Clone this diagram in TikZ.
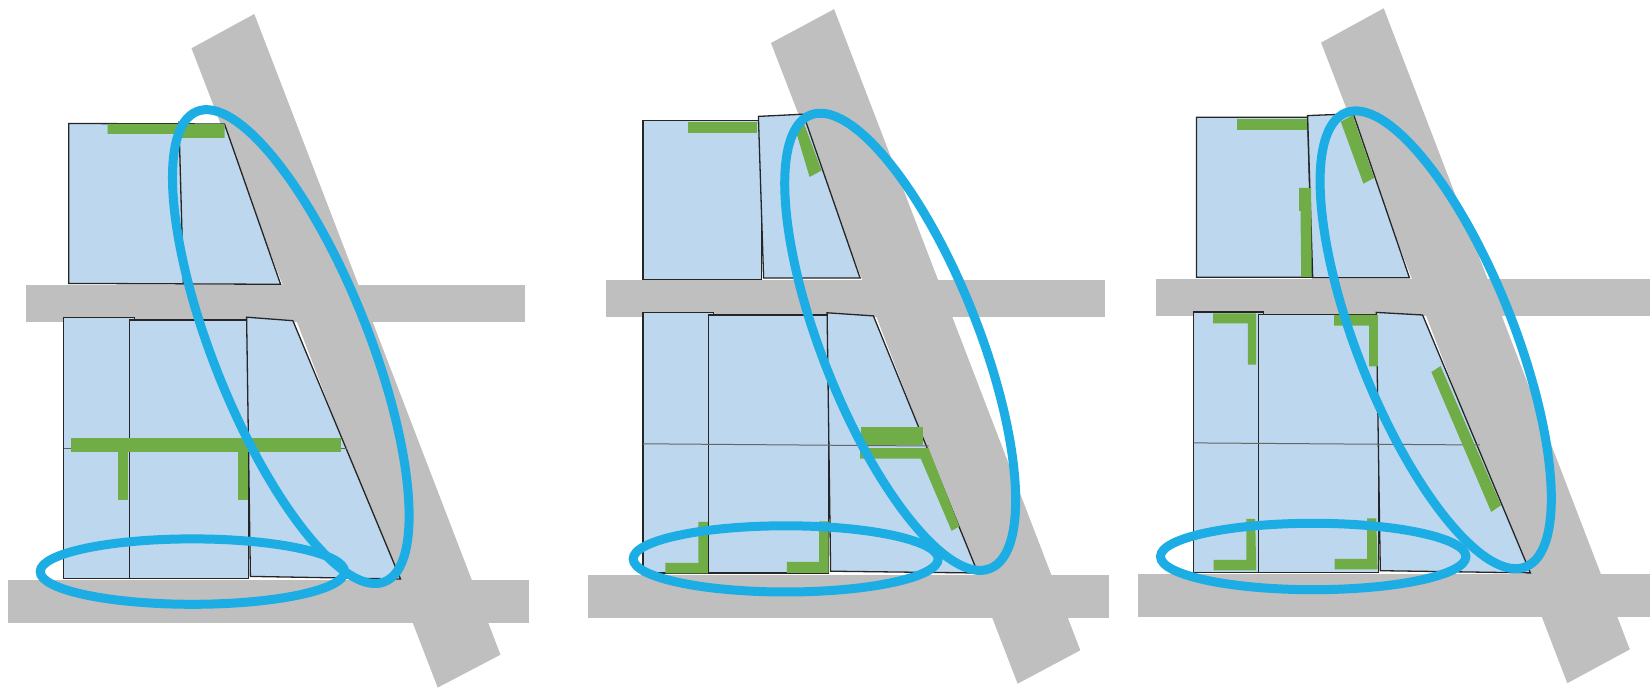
\documentclass[tikz,border=0pt]{standalone}
\usepackage{xcolor}
\usepackage{tikz}
\definecolor{roadgray}{HTML}{BFBFBF}
\definecolor{blockblue}{HTML}{BDD7EE}
\definecolor{wallgreen}{HTML}{70AD47}
\definecolor{ringblue}{HTML}{1CADE4}

\begin{document}
\begin{tikzpicture}[x=0.5pt, y=-0.5pt,
    road/.style={fill=roadgray},
    block/.style={draw=black!85, fill=blockblue, line width=0.65pt, line join=miter},
    grid/.style={draw=black!60, line width=0.5pt},
    wall/.style={fill=wallgreen},
    ring/.style={draw=ringblue, line width=4.5pt}]
  \useasboundingbox (0,0) rectangle (1650,689);

  \fill[road] (254.3,14) -- (191.5,48.3) -- (437.7,687.6) -- (500.5,654.7) -- cycle;
  \fill[road] (26.3,284.7) rectangle (525.4,321.6);
  \fill[road] (8,580) rectangle (529,622.6);

  \path[block] (68.7,123.5) -- (224.5,124) -- (280.6,284.3) -- (68.7,283.4) -- cycle;
  \draw[block] (178.9,121.3) -- (183.4,283.4);
  \path[block] (63.8,317.2) -- (134.7,317.2) -- (134.7,319.9) -- (129.4,319.9) -- (129.4,578.6) -- (63.8,578.6) -- cycle;
  \path[block] (129.4,319.9) rectangle (248.7,578.6);
  \path[block] (246.6,317.2) -- (292.9,320.7) -- (400.5,579) -- (250.4,576.4) -- cycle;
  \draw[grid] (63.8,448.6) -- (347,448.6);

  \fill[wall] (107.7,123.9) -- (224.5,123.9) -- (224.5,138) -- (175.4,138) -- (175.4,134) -- (107.7,134) -- cycle;
  \fill[wall] (70.9,438) rectangle (340.9,452.5);
  \fill[wall] (117.9,452) rectangle (128,499.6);
  \fill[wall] (237.5,452) rectangle (247.8,499.6);

  \draw[ring] (290.8,346.6) circle [x radius=253.2, y radius=77.6, rotate=-68.25];
  \draw[ring] (192.4,571.6) circle [x radius=152.2, y radius=32.7];

  \fill[road] (834.1,9.2) -- (771,43) -- (1017.6,683.7) -- (1080.3,650.3) -- cycle;
  \fill[road] (606.1,279.9) rectangle (1104.9,317.2);
  \fill[road] (587.5,575.1) rectangle (1108.8,618.2);

  \path[block] (643,120.4) rectangle (761.5,279.4);
  \path[block] (758.4,116.4) -- (803.3,114.2) -- (860.1,278.1) -- (763.6,278.1) -- cycle;
  \path[block] (643,312.8) -- (713.8,312.8) -- (713.8,315) -- (708.2,315) -- (708.2,573) -- (643,573) -- cycle;
  \path[block] (708.2,315) rectangle (828.5,573);
  \path[block] (827.1,312.8) -- (873.4,315.9) -- (977.9,573) -- (830.6,571.2) -- cycle;
  \draw[grid] (643,443.8) -- (928.5,446);

  \fill[wall] (687.9,122.1) rectangle (757,133.1);
  \fill[wall] (804.3,124.3) -- (796.2,132.3) -- (809.6,177) -- (821.5,170.5) -- cycle;
  \fill[wall] (861.1,427.5) rectangle (922.5,445);
  \fill[wall] (860.1,448.2) -- (928.5,448) -- (959.3,526.4) -- (951.6,530.8) -- (920.8,458.7) -- (860.1,458.7) -- cycle;
  \fill[wall] (698.4,522) -- (707.8,522) -- (707.8,573.4) -- (665.4,573.4) -- (665.4,562.8) -- (698.4,562.8) -- cycle;
  \fill[wall] (819,521.5) -- (828.5,521.5) -- (828.5,573) -- (786.8,573) -- (786.8,562) -- (819,562) -- cycle;

  \draw[ring] (900.2,341.8) circle [x radius=243.9, y radius=78.1, rotate=-68.4];
  \draw[ring] (785.7,558.9) circle [x radius=152.5, y radius=33.1];

  \fill[road] (1383.7,8.3) -- (1321.1,42.6) -- (1567.3,683.2) -- (1629.8,649.4) -- cycle;
  \fill[road] (1155.5,279.4) rectangle (1650,316.3);
  \fill[road] (1137.6,574.2) rectangle (1650,617.3);

  \path[block] (1196.4,117.3) -- (1307.6,117.3) -- (1312,277.2) -- (1196.4,277.2) -- cycle;
  \path[block] (1307.6,115.6) -- (1353.3,113.8) -- (1409.4,277.7) -- (1312.7,277.7) -- cycle;
  \path[block] (1193.4,312) -- (1263.7,312) -- (1263.7,314.6) -- (1258.3,314.6) -- (1258.3,572.5) -- (1193.4,572.5) -- cycle;
  \path[block] (1258.3,314.6) rectangle (1378.3,572.5);
  \path[block] (1376.3,312.4) -- (1422.6,315) -- (1530.4,572.9) -- (1380.3,570.7) -- cycle;
  \draw[grid] (1193.4,442.9) -- (1480,445);

  \fill[wall] (1237.3,118.6) rectangle (1307,130.5);
  \fill[wall] (1340.8,121.7) -- (1352.6,115.1) -- (1374.2,177.9) -- (1363.4,183.7) -- cycle;
  \fill[wall] (1299.2,188) -- (1311,188) -- (1311.7,276.8) -- (1301.2,276.8) -- (1300.5,210.9) -- (1299.2,210.9) -- cycle;
  \fill[wall] (1213,313.3) -- (1256.2,313.3) -- (1256.2,364.7) -- (1247.8,364.7) -- (1247.8,323.4) -- (1213,323.4) -- cycle;
  \fill[wall] (1334,315) -- (1377.9,315) -- (1377.9,366.4) -- (1369.2,366.4) -- (1369.2,325.6) -- (1334,325.6) -- cycle;
  \fill[wall] (1440.5,366) -- (1431.4,372.1) -- (1491.2,511.9) -- (1501,505.3) -- cycle;
  \fill[wall] (1246.4,518.9) -- (1255.2,518.9) -- (1256.2,570.3) -- (1213.6,570.3) -- (1213.6,559.8) -- (1246.4,559.8) -- cycle;
  \fill[wall] (1367.1,518.5) -- (1376.3,518.5) -- (1377.6,569.4) -- (1334.7,569.4) -- (1334.7,558.9) -- (1367.1,558.9) -- cycle;

  \draw[ring] (1435.7,339.8) circle [x radius=244.2, y radius=78.2, rotate=-68.4];
  \draw[ring] (1313.2,556.5) circle [x radius=152.7, y radius=33.2];
\end{tikzpicture}
\end{document}
